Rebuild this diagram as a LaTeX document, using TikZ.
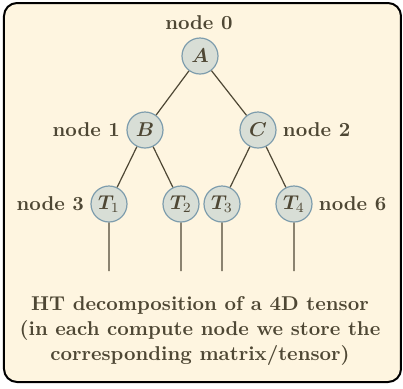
\documentclass[tikz,border=0pt]{standalone}
\usepackage{amsmath,bm}
\usetikzlibrary{positioning}
\definecolor{paper}{HTML}{FEF5E0}
\definecolor{ink}{HTML}{4E4734}
\definecolor{ballfill}{HTML}{D8DED6}
\definecolor{balledge}{HTML}{7E9DAD}
\tikzset{
  ball/.style={circle, draw=balledge, fill=ballfill, line width=0.6pt,
    minimum size=18pt, inner sep=0pt, text=ink},
  lbl/.style={text=ink, font=\bfseries, inner sep=1pt},
  edge/.style={draw=ink, line width=0.6pt},
}
\begin{document}
\begin{tikzpicture}[x=0.5pt, y=-0.5pt]
\useasboundingbox (0,0) rectangle (403,388);
\draw[fill=paper, line width=1pt, rounded corners=6.5pt] (4,3) rectangle (401,382);
% tree nodes
\node[ball] (A) at (200,56) {$\bm{A}$};
\node[ball] (B) at (145,130) {$\bm{B}$};
\node[ball] (C) at (258,130) {$\bm{C}$};
\node[ball] (T1) at (109,204) {$\bm{T}_1$};
\node[ball] (T2) at (181,204) {$\bm{T}_2$};
\node[ball] (T3) at (222,204) {$\bm{T}_3$};
\node[ball] (T4) at (294,204) {$\bm{T}_4$};
% free leg ends
\coordinate (e1) at (109,271);
\coordinate (e2) at (181,271);
\coordinate (e3) at (222,271);
\coordinate (e4) at (294,271);
% connectors
\path[edge] (A) -- (B) (A) -- (C)
  (B) -- (T1) (B) -- (T2) (C) -- (T3) (C) -- (T4)
  (T1) -- (e1) (T2) -- (e2) (T3) -- (e3) (T4) -- (e4);
% labels
\node[lbl] (l0) at (199,23) {node 0};
\node[lbl, left=2pt of B] (l1) {node 1};
\node[lbl, right=2pt of C] (l2) {node 2};
\node[lbl, left=2pt of T1] (l3) {node 3};
\node[lbl, right=2pt of T4] (l6) {node 6};
\node[text=ink, font=\bfseries\fontsize{10}{12.5}\selectfont, align=center] (cap) at (200,331)
  {HT decomposition of a 4D tensor\\(in each compute node we store the\\corresponding matrix/tensor)};
\end{tikzpicture}
\end{document}
